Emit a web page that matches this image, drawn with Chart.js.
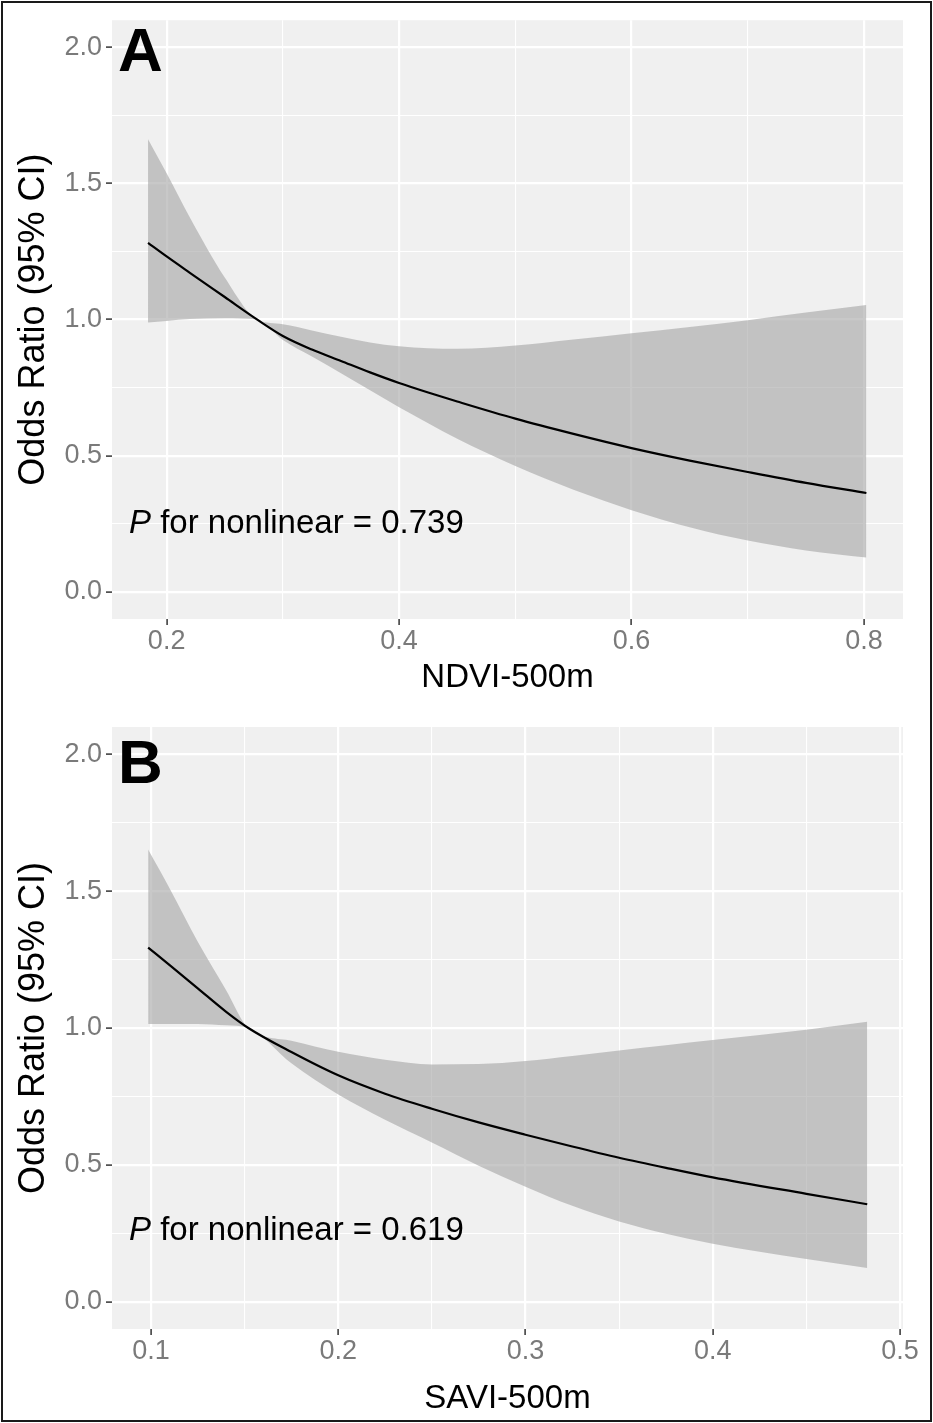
<!DOCTYPE html>
<html>
<head>
<meta charset="utf-8">
<script src="https://cdn.jsdelivr.net/npm/chart.js@4.4.1/dist/chart.umd.min.js"></script>
<style>
  body { margin: 0; background: #fff; }
  #wrap { position: relative; width: 933px; height: 1423px; }
  canvas { position: absolute; left: 0; }
  #frame { position: absolute; left: 1px; top: 1px; width: 931px; height: 1421px;
           border: 2px solid #1a1a1a; box-sizing: border-box; pointer-events: none; }
</style>
</head>
<body>
<div id="wrap">
  <canvas id="chartA" width="933" height="705" style="top:0"></canvas>
  <canvas id="chartB" width="933" height="718" style="top:705px"></canvas>
  <div id="frame"></div>
</div>
<script>
// Panel A - NDVI-500m
const xA = [0.184, 0.2, 0.22, 0.25, 0.278, 0.3, 0.325, 0.35, 0.375, 0.4, 0.425, 0.45, 0.5, 0.55, 0.6, 0.65, 0.7, 0.75, 0.802];
const orA = [1.282, 1.232, 1.172, 1.083, 1.0, 0.94, 0.89, 0.848, 0.806, 0.767, 0.732, 0.699, 0.636, 0.58, 0.528, 0.482, 0.44, 0.40, 0.363];
const upperA = [1.663, 1.538, 1.375, 1.155, 1.0, 0.983, 0.96, 0.937, 0.916, 0.902, 0.895, 0.893, 0.905, 0.927, 0.95, 0.973, 0.998, 1.026, 1.054];
const lowerA = [0.989, 0.995, 1.002, 1.005, 1.0, 0.925, 0.864, 0.803, 0.74, 0.678, 0.619, 0.562, 0.462, 0.375, 0.30, 0.237, 0.188, 0.152, 0.126];
const xTicksA = [0.2, 0.4, 0.6, 0.8];
const xMinorA = [0.3, 0.5, 0.7];

// Panel B - SAVI-500m
const xB = [0.0985, 0.11, 0.125, 0.14, 0.152, 0.175, 0.2, 0.225, 0.25, 0.275, 0.3, 0.325, 0.35, 0.375, 0.4, 0.45, 0.4825];
const orB = [1.294, 1.23, 1.145, 1.06, 1.0, 0.912, 0.827, 0.76, 0.705, 0.655, 0.61, 0.567, 0.526, 0.489, 0.454, 0.394, 0.356];
const upperB = [1.652, 1.51, 1.315, 1.14, 1.0, 0.953, 0.913, 0.884, 0.867, 0.868, 0.879, 0.898, 0.918, 0.937, 0.956, 0.994, 1.023];
const lowerB = [1.015, 1.015, 1.015, 1.01, 1.0, 0.871, 0.757, 0.665, 0.582, 0.497, 0.42, 0.35, 0.293, 0.248, 0.212, 0.156, 0.123];
const xTicksB = [0.1, 0.2, 0.3, 0.4, 0.5];
const xMinorB = [0.15, 0.25, 0.35, 0.45];

const yTicks = [0, 0.5, 1.0, 1.5, 2.0];
const yMinor = [0.25, 0.75, 1.25, 1.75];

const FONT = "'Liberation Sans', Arial, Helvetica, sans-serif";

function pts(xs, ys) {
  return xs.map((x, i) => ({ x: x, y: ys[i] }));
}

// grey panel + letter + P text
const panelPlugin = {
  id: 'panel',
  beforeDraw(chart) {
    const a = chart.chartArea;
    const ctx = chart.ctx;
    ctx.save();
    ctx.fillStyle = '#f0f0f0';
    ctx.fillRect(a.left, a.top, a.right - a.left, a.bottom - a.top);
    ctx.restore();
  },
  afterDraw(chart, args, opts) {
    const a = chart.chartArea;
    const ctx = chart.ctx;
    ctx.save();
    ctx.fillStyle = '#000';
    ctx.textBaseline = 'alphabetic';
    ctx.textAlign = 'left';
    ctx.font = 'bold 62px ' + FONT;
    ctx.fillText(opts.letter, a.left + 6, a.top + opts.letterY);

    const px = a.left + 17, py = a.top + 513;
    ctx.font = 'italic 33px ' + FONT;
    ctx.fillText('P', px, py);
    const w = ctx.measureText('P').width;
    ctx.font = '33px ' + FONT;
    ctx.fillText(' for nonlinear = ' + opts.p, px + w, py);
    ctx.restore();
  }
};

function makeChart(id, cfg) {
  const allX = cfg.xTicks.concat(cfg.xMinor).sort((a, b) => a - b);
  const allY = yTicks.concat(yMinor).sort((a, b) => a - b);

  new Chart(document.getElementById(id).getContext('2d'), {
    type: 'line',
    data: {
      datasets: [
        {
          label: 'OR',
          data: pts(cfg.x, cfg.or),
          borderColor: '#000',
          borderWidth: 2.2,
          pointRadius: 0,
          fill: false,
          cubicInterpolationMode: 'monotone'
        },
        {
          label: 'upper',
          data: pts(cfg.x, cfg.upper),
          borderWidth: 0,
          borderColor: 'rgba(0,0,0,0)',
          backgroundColor: 'rgba(163,163,163,0.6)',
          pointRadius: 0,
          fill: '+1',
          cubicInterpolationMode: 'monotone'
        },
        {
          label: 'lower',
          data: pts(cfg.x, cfg.lower),
          borderWidth: 0,
          borderColor: 'rgba(0,0,0,0)',
          pointRadius: 0,
          fill: false,
          cubicInterpolationMode: 'monotone'
        }
      ]
    },
    options: {
      responsive: false,
      animation: false,
      devicePixelRatio: 1,
      layout: { padding: { top: cfg.padTop, right: 30, left: 0, bottom: 0 } },
      plugins: {
        legend: { display: false },
        tooltip: { enabled: false },
        panel: { letter: cfg.letter, letterY: cfg.letterY, p: cfg.p }
      },
      scales: {
        x: {
          type: 'linear',
          min: cfg.xMin,
          max: cfg.xMax,
          afterBuildTicks: (s) => { s.ticks = allX.map(v => ({ value: v })); },
          afterFit: (s) => { s.height = cfg.xAxisH; },
          border: { display: false },
          grid: {
            color: '#ffffff',
            lineWidth: (c) => cfg.xTicks.includes(c.tick.value) ? 2.2 : 1.1,
            tickLength: 6,
            tickWidth: 1.5,
            tickColor: (c) => cfg.xTicks.includes(c.tick.value) ? '#333333' : 'rgba(0,0,0,0)'
          },
          ticks: {
            autoSkip: false,
            maxRotation: 0,
            padding: 0,
            color: '#7a7a7a',
            font: { family: FONT, size: 27 },
            callback: (v) => cfg.xTicks.includes(v) ? v.toFixed(1) : ''
          },
          title: {
            display: true,
            text: cfg.xTitle,
            color: '#000',
            font: { family: FONT, size: 33 },
            padding: { top: 0, bottom: cfg.titlePadB }
          }
        },
        y: {
          type: 'linear',
          min: -0.1,
          max: 2.1,
          afterBuildTicks: (s) => { s.ticks = allY.map(v => ({ value: v })); },
          afterFit: (s) => { s.width = 112; },
          border: { display: false },
          grid: {
            color: '#ffffff',
            lineWidth: (c) => yTicks.includes(c.tick.value) ? 2.2 : 1.1,
            tickLength: 6,
            tickWidth: 1.5,
            tickColor: (c) => yTicks.includes(c.tick.value) ? '#333333' : 'rgba(0,0,0,0)'
          },
          ticks: {
            autoSkip: false,
            padding: 4,
            color: '#7a7a7a',
            font: { family: FONT, size: 27 },
            callback: (v) => yTicks.includes(v) ? v.toFixed(1) : ''
          },
          title: {
            display: true,
            text: 'Odds Ratio (95% CI)',
            color: '#000',
            font: { family: FONT, size: 36 },
            padding: { top: 12, bottom: 0 }
          }
        }
      }
    },
    plugins: [panelPlugin]
  });
}

makeChart('chartA', {
  x: xA, or: orA, upper: upperA, lower: lowerA,
  xTicks: xTicksA, xMinor: xMinorA,
  xMin: 0.153, xMax: 0.8335,
  xTitle: 'NDVI-500m',
  padTop: 18, xAxisH: 86, titlePadB: 7,
  letter: 'A', letterY: 51, p: '0.739'
});

makeChart('chartB', {
  x: xB, or: orB, upper: upperB, lower: lowerB,
  xTicks: xTicksB, xMinor: xMinorB,
  xMin: 0.0792, xMax: 0.5016,
  xTitle: 'SAVI-500m',
  padTop: 22, xAxisH: 94, titlePadB: 4,
  letter: 'B', letterY: 56, p: '0.619'
});
</script>
</body>
</html>
